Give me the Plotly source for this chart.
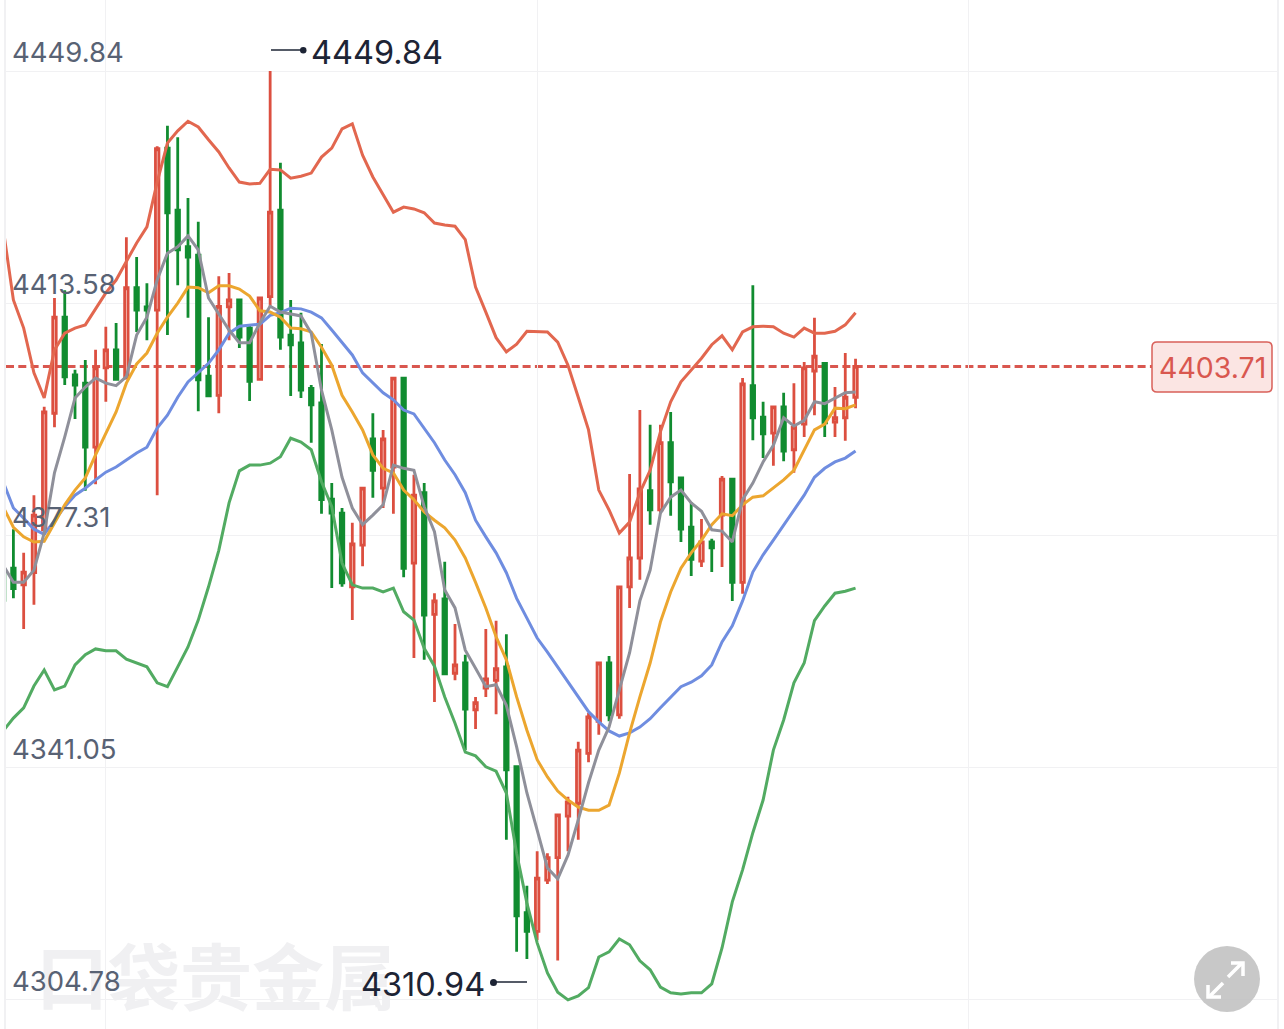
import plotly.graph_objects as go

# Candle index, one off-screen-edge candle first
index = list(range(-1, 83))

open_ = [4371.9,4372.2,4369.6,4371.5,4378.2,4396.4,4411.4,4402.4,4401.1,4391.1,4403.5,4406.3,4401.9,4416.0,4413.0,4412.5,4437.8,4428.1,4422.4,4421.1,4402.2,4399.2,4413.0,4414.1,4409.7,4401.7,4414.6,4428.1,4408.6,4407.4,4400.3,4398.0,4383.0,4380.8,4369.3,4375.8,4392.4,4384.7,4388.0,4401.9,4373.0,4384.0,4365.0,4367.4,4355.8,4357.4,4350.1,4353.5,4354.7,4356.8,4341.2,4318.4,4315.5,4323.5,4327.0,4333.5,4335.5,4343.3,4348.3,4357.4,4349.3,4369.3,4373.8,4384.3,4381.3,4391.8,4386.3,4378.6,4373.3,4376.3,4380.5,4386.1,4370.0,4400.7,4395.8,4393.3,4397.4,4390.7,4394.7,4403.0,4404.2,4395.0,4395.7,4398.9]
close = [4367.2,4369.0,4371.6,4380.5,4396.6,4411.4,4402.1,4400.8,4391.1,4403.5,4406.3,4401.7,4416.0,4412.5,4412.5,4437.7,4427.7,4421.9,4420.8,4401.6,4399.1,4413.1,4414.1,4408.3,4401.4,4414.4,4427.8,4408.3,4407.1,4400.0,4397.7,4382.9,4380.8,4369.9,4376.0,4384.7,4387.5,4392.4,4401.9,4372.2,4383.6,4364.9,4367.1,4355.7,4357.1,4350.2,4351.2,4354.9,4356.5,4340.7,4317.9,4315.5,4323.8,4327.0,4333.7,4335.7,4343.8,4349.0,4357.4,4349.3,4369.3,4373.8,4384.6,4381.3,4391.8,4385.7,4378.3,4373.6,4376.3,4375.4,4386.1,4370.0,4401.0,4395.7,4393.2,4397.4,4390.5,4394.2,4403.5,4405.3,4394.9,4395.7,4398.9,4403.71]
high = [4371.9,4378.3,4374.6,4383.6,4397.4,4414.4,4415.6,4403.2,4404.7,4406.3,4409.9,4410.5,4423.9,4420.8,4416.7,4438.1,4441.3,4439.5,4430.0,4426.3,4411.4,4417.8,4418.3,4414.1,4410.2,4414.6,4449.84,4435.5,4414.1,4412.1,4400.8,4407.2,4385.5,4381.6,4379.3,4384.7,4396.4,4393.8,4401.9,4401.9,4386.8,4385.5,4368.3,4373.2,4363.5,4358.7,4352.1,4362.7,4364.0,4361.9,4341.2,4322.6,4328.0,4327.7,4333.7,4336.5,4345.1,4349.6,4357.4,4358.5,4369.3,4386.9,4396.9,4394.6,4394.6,4396.6,4386.3,4382.5,4379.9,4376.8,4386.6,4386.1,4401.9,4416.4,4398.2,4397.5,4399.6,4401.1,4404.4,4411.3,4404.4,4400.5,4405.8,4404.9]
low = [4367.2,4367.5,4362.7,4366.5,4377.4,4394.2,4400.8,4395.5,4384.3,4385.3,4398.2,4401.6,4401.7,4409.1,4407.8,4383.6,4408.6,4416.4,4411.3,4396.7,4399.1,4396.4,4407.8,4406.6,4398.3,4401.6,4413.0,4406.3,4399.1,4398.8,4391.8,4380.7,4369.1,4369.3,4364.1,4372.5,4383.2,4381.6,4380.7,4370.8,4358.2,4357.9,4351.3,4355.7,4354.7,4343.8,4347.1,4352.1,4349.4,4329.8,4312.3,4311.2,4314.1,4322.9,4310.94,4328.0,4329.8,4341.9,4346.2,4348.3,4348.7,4366.0,4370.4,4379.0,4380.8,4380.4,4376.3,4371.0,4372.4,4371.6,4372.4,4367.1,4368.2,4392.2,4389.4,4388.2,4388.9,4387.1,4392.7,4396.1,4392.7,4392.7,4392.1,4397.2]

boll_upper = [4425.3,4414.1,4409.7,4402.7,4398.8,4406.3,4408.9,4409.7,4410.2,4412.8,4415.2,4417.2,4420.0,4423.0,4425.5,4432.5,4438.6,4440.5,4442.0,4441.1,4439.1,4437.2,4434.7,4432.5,4432.2,4432.3,4434.5,4434.4,4433.1,4433.4,4433.9,4436.4,4437.8,4440.8,4441.6,4436.7,4433.3,4430.5,4427.8,4428.6,4428.3,4427.7,4426.1,4425.8,4425.6,4423.5,4416.1,4412.2,4408.2,4406.0,4407.2,4409.2,4409.1,4409.1,4407.5,4403.9,4398.9,4393.8,4384.4,4381.3,4377.7,4379.4,4384.0,4387.5,4393.5,4398.2,4401.3,4403.2,4405.0,4407.1,4408.5,4406.3,4409.1,4409.9,4410.0,4409.9,4408.9,4408.3,4409.7,4408.9,4408.9,4409.2,4410.2,4412.1]
boll_mid = [4385.7,4381.6,4380.0,4378.3,4377.5,4379.7,4381.8,4383.6,4384.7,4386.0,4387.2,4388.0,4389.1,4390.2,4391.1,4394.1,4396.1,4398.9,4401.3,4402.7,4404.2,4406.3,4408.9,4410.0,4410.2,4410.3,4411.7,4412.1,4412.8,4412.7,4412.2,4411.3,4409.4,4407.4,4405.5,4402.7,4401.1,4399.6,4398.5,4396.9,4396.3,4394.1,4391.8,4389.1,4386.8,4384.0,4379.7,4377.1,4374.6,4371.5,4367.5,4364.4,4361.3,4359.1,4356.8,4354.3,4352.1,4349.8,4348.2,4346.8,4346.0,4346.5,4347.4,4348.7,4350.4,4352.1,4353.7,4354.4,4355.4,4357.1,4360.7,4363.2,4367.1,4371.6,4374.3,4376.6,4379.0,4381.3,4383.6,4386.4,4387.8,4388.8,4389.4,4390.5]
boll_lower = [4346.8,4348.8,4350.4,4353.8,4356.3,4353.2,4353.8,4357.1,4358.7,4359.6,4359.3,4359.3,4358.0,4357.4,4356.8,4354.3,4353.7,4356.8,4359.9,4364.1,4369.3,4375.0,4382.4,4387.4,4388.3,4388.3,4388.6,4389.6,4392.5,4391.9,4390.7,4385.7,4381.8,4373.0,4369.6,4369.1,4369.1,4368.5,4369.1,4365.4,4364.1,4359.7,4356.9,4352.1,4348.0,4343.5,4342.9,4341.2,4340.5,4337.1,4327.7,4319.9,4313.7,4309.0,4306.0,4304.8,4305.4,4306.7,4311.5,4312.3,4314.3,4313.4,4310.9,4309.5,4306.8,4305.9,4305.7,4305.9,4305.9,4307.3,4312.9,4320.1,4325.1,4330.9,4336.0,4343.8,4348.5,4354.3,4357.4,4364.0,4366.3,4368.3,4368.6,4369.1]
ma_slow = [4381.8,4378.6,4377.1,4376.3,4376.4,4379.3,4382.1,4384.4,4386.3,4389.9,4393.3,4396.6,4401.1,4404.1,4405.8,4408.9,4411.4,4413.6,4416.1,4416.0,4415.2,4416.3,4416.3,4415.8,4414.7,4412.4,4412.2,4411.4,4409.7,4409.6,4409.1,4406.7,4403.9,4399.2,4396.6,4393.8,4389.9,4387.8,4387.1,4384.4,4382.9,4381.0,4379.7,4378.5,4376.6,4373.8,4370.0,4366.0,4361.5,4357.9,4352.1,4346.9,4342.3,4339.6,4337.4,4336.0,4334.9,4334.4,4334.4,4335.2,4340.2,4346.5,4352.1,4357.4,4363.8,4368.5,4372.2,4374.6,4376.6,4379.0,4380.7,4380.4,4382.1,4383.3,4383.5,4384.7,4386.0,4387.5,4390.7,4393.8,4394.7,4397.2,4397.1,4397.7]
ma_fast = [4372.7,4370.0,4370.0,4371.9,4377.7,4387.1,4392.7,4398.8,4400.5,4401.9,4401.1,4400.7,4402.1,4408.6,4411.4,4417.2,4421.4,4422.4,4424.1,4421.9,4414.4,4411.9,4409.4,4407.4,4407.4,4410.5,4413.1,4412.2,4411.9,4411.6,4408.9,4400.0,4393.8,4386.4,4381.6,4379.0,4380.5,4382.1,4388.3,4387.8,4387.5,4381.8,4377.9,4368.8,4366.0,4359.4,4356.6,4353.7,4354.0,4350.8,4344.3,4337.1,4331.3,4325.4,4323.7,4327.4,4332.9,4338.7,4343.8,4347.4,4353.2,4359.0,4367.1,4371.9,4380.8,4383.3,4384.4,4382.4,4381.1,4378.2,4378.0,4376.3,4382.9,4385.5,4388.8,4391.4,4395.7,4394.4,4395.3,4398.2,4397.9,4398.8,4399.6,4399.7]

for name, arr in dict(open_=open_, close=close, high=high, low=low, boll_upper=boll_upper, boll_mid=boll_mid,
                      boll_lower=boll_lower, ma_slow=ma_slow, ma_fast=ma_fast).items():
    assert len(arr) == len(index), (name, len(arr))

grid_prices = [4449.84, 4413.58, 4377.31, 4341.05, 4304.78]
grid_labels = ["4449.84", "4413.58", "4377.31", "4341.05", "4304.78"]
grid_candles = [9, 51, 93]
last_price = 4403.71
last_label = "4403.71"
max_label = "4449.84"
min_label = "4310.94"
watermark = "口袋贵金属"

W, H = 1284, 1029
L, R = 6, 1277
px = lambda x: (x - L) / (R - L)
py = lambda y: 1 - y / H

UP = "#dc4f40"
UP_FILL = "#fbdcd6"
DOWN = "#118c30"

fig = go.Figure()
fig.add_trace(go.Candlestick(
    x=index, open=open_, high=high, low=low, close=close,
    increasing=dict(line=dict(color=UP, width=2.8), fillcolor=UP_FILL),
    decreasing=dict(line=dict(color=DOWN, width=2.8), fillcolor=DOWN),
    whiskerwidth=0, showlegend=False, hoverinfo="skip"))

for arr, col in [(boll_upper, "#e2674f"), (boll_lower, "#52ab62"), (boll_mid, "#6f8de0"),
                 (ma_slow, "#eca62f"), (ma_fast, "#8f909a")]:
    fig.add_trace(go.Scatter(x=index, y=arr, mode="lines", line=dict(color=col, width=3),
                             showlegend=False, hoverinfo="skip"))

FONT = "Inter, Roboto, sans-serif"
ann = [dict(text=watermark, x=px(34), y=py(972), xref="paper", yref="paper", xanchor="left", yanchor="middle",
            showarrow=False, font=dict(family="Noto Sans CJK SC", size=72, color="#f0f0f2", weight="bold"))]
for p, t in zip(grid_prices, grid_labels):
    ann.append(dict(text=t, x=px(10), y=p, xref="paper", yref="y", xanchor="left", yanchor="middle", yshift=19,
                    showarrow=False, font=dict(family=FONT, size=27.5, color="#586274")))
ann += [
    dict(text=max_label, x=px(309), y=py(52), xref="paper", yref="paper", xanchor="left", yanchor="middle",
         showarrow=False, font=dict(family=FONT, size=32.5, color="#1d2435")),
    dict(text=min_label, x=px(487), y=py(984), xref="paper", yref="paper", xanchor="right", yanchor="middle",
         showarrow=False, font=dict(family=FONT, size=32.5, color="#1d2435")),
    dict(text=last_label, x=px(1212), y=py(367), xref="paper", yref="paper", xanchor="center", yanchor="middle",
         showarrow=False, font=dict(family=FONT, size=28.5, color="#d9574f")),
    dict(text="(4H)", x=px(177), y=py(5), xref="paper", yref="paper", xanchor="center", yanchor="bottom",
         showarrow=False, font=dict(family=FONT, size=26, color="#2a3040")),
]

def rrect(x0, y0, x1, y1, r):
    return (f"M {px(x0+r)} {py(y0)} L {px(x1-r)} {py(y0)} Q {px(x1)} {py(y0)} {px(x1)} {py(y0+r)} "
            f"L {px(x1)} {py(y1-r)} Q {px(x1)} {py(y1)} {px(x1-r)} {py(y1)} L {px(x0+r)} {py(y1)} "
            f"Q {px(x0)} {py(y1)} {px(x0)} {py(y1-r)} L {px(x0)} {py(y0+r)} Q {px(x0)} {py(y0)} {px(x0+r)} {py(y0)} Z")

def pline(points):
    return "M " + " L ".join(f"{px(x)} {py(y)}" for x, y in points)

pp = dict(xref="paper", yref="paper")
shapes = [
    dict(type="line", x0=0, x1=px(1152), y0=last_price, y1=last_price, xref="paper", yref="y", layer="below",
         line=dict(color="#d9574f", width=3, dash="8px,4.3px")),
    dict(type="path", path=rrect(1152, 342, 1272, 392, 5), line=dict(color="#d9605a", width=1.5), fillcolor="#fbe5e3", layer="below", **pp),
    dict(type="line", x0=px(271), x1=px(303), y0=py(50), y1=py(50), line=dict(color="#1d2435", width=1.5), **pp),
    dict(type="circle", x0=px(300), x1=px(306.5), y0=py(47), y1=py(53.5), fillcolor="#1d2435", line=dict(width=0), **pp),
    dict(type="line", x0=px(493), x1=px(527), y0=py(982), y1=py(982), line=dict(color="#1d2435", width=1.5), **pp),
    dict(type="circle", x0=px(490), x1=px(497), y0=py(979), y1=py(986), fillcolor="#1d2435", line=dict(width=0), **pp),
    dict(type="circle", x0=px(1194), x1=px(1260), y0=py(946), y1=py(1012), fillcolor="rgba(190,190,190,0.85)", line=dict(width=0), **pp),
]
for pts in ([(1228, 977), (1242, 963)], [(1231, 963), (1243, 963), (1243, 976)],
            [(1223, 983), (1209, 997)], [(1208, 985), (1208, 997), (1221, 997)]):
    shapes.append(dict(type="path", path=pline(pts), line=dict(color="white", width=3.5), **pp))

fig.update_layout(
    width=W, height=H, margin=dict(l=L, r=W - R, t=0, b=0, pad=0),
    paper_bgcolor="white", plot_bgcolor="white", showlegend=False, boxgap=0.52,
    xaxis=dict(range=[(L - 13.4) / 10.27, (R - 13.4) / 10.27], tickvals=grid_candles, showticklabels=False,
               ticks="", showgrid=True, gridcolor="#f1f1f3", gridwidth=1, zeroline=False,
               showline=False, rangeslider=dict(visible=False)),
    yaxis=dict(range=[4300.25, 4460.93], tickvals=grid_prices, showticklabels=False, ticks="", showgrid=True,
               gridcolor="#f1f1f3", gridwidth=1, zeroline=False, showline=True, linecolor="#f1f1f3", linewidth=2, mirror=True),
    annotations=ann, shapes=shapes,
)
fig.write_html("out.html", post_script="document.body.style.margin='0';", config=dict(displayModeBar=False))
